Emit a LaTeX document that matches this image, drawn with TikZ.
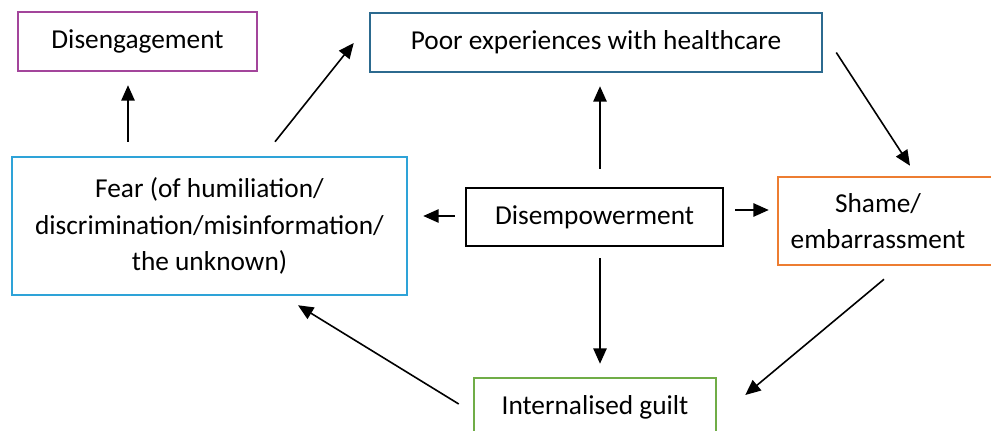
\documentclass[tikz,border=0pt]{standalone}
\usepackage{fontspec}
\setmainfont{Carlito}
\usetikzlibrary{arrows.meta,positioning,calc}

\definecolor{engpurple}{RGB}{163,69,155}
\definecolor{poorteal}{RGB}{44,106,143}
\definecolor{fearblue}{RGB}{46,163,216}
\definecolor{shameorange}{RGB}{237,125,49}
\definecolor{guiltgreen}{RGB}{112,173,71}

\begin{document}
\begin{tikzpicture}[
    x=0.75pt, y=-0.75pt,
    box/.style={draw, line width=1.9pt, align=center, inner sep=0pt,
        font=\fontsize{20.5}{27.5}\selectfont},
    arr/.style={-{Triangle[length=11.5pt,width=10pt]}, line width=1.2pt}
]
\useasboundingbox (0,0) rectangle (991,431);
\begin{scope}
\clip (0,0) rectangle (991,431);
\node[box, draw=engpurple, minimum width=179.25pt, minimum height=44.25pt] (diseng) at (137.5,41.5) {Disengagement};
\node[box, draw=poorteal, minimum width=339pt, minimum height=44.25pt] (poor) at (596,42.5) {Poor experiences with healthcare};
\node[box, draw=fearblue, minimum width=296.25pt, minimum height=103.5pt] (fear) at (209.5,226) {Fear (of humiliation/\\discrimination/misinformation/\\the unknown)};
\node[box, draw=black, minimum width=192.75pt, minimum height=43.5pt] (disemp) at (594.5,217) {Disempowerment};
\node[box, draw=shameorange, minimum width=162pt, minimum height=66pt] (shame) at (886,221) {\hspace*{-12pt}Shame/\\\hspace*{-12pt}embarrassment};
\node[box, draw=guiltgreen, minimum width=181.5pt, minimum height=43.5pt] (guilt) at (595,407) {Internalised guilt};
\end{scope}

\draw[arr] ($(fear.north)+(-81.5,-14)$) -- ($(diseng.south)+(-9.5,13)$);
\draw[arr] ($(fear.north)+(65.5,-14)$) -- ($(poor.west)+(-15,0.5)$);
\draw[arr] ($(disemp.north)+(5.5,-18)$) -- ($(poor.south)+(4,13)$);
\draw[arr] ($(poor.east)+(13,10)$) -- ($(shame.north)+(24,-10)$);
\draw[arr] ($(disemp.west)+(-10,-1)$) -- ($(fear.east)+(15,-10)$);
\draw[arr] ($(disemp.east)+(11,-7)$) -- ($(shame.west)+(-8,-11)$);
\draw[arr] ($(disemp.south)+(5.5,11)$) -- ($(guilt.north)+(5,-13)$);
\draw[arr] ($(shame.south)+(-2,13)$) -- ($(guilt.east)+(28,-12)$);
\draw[arr] ($(guilt.west)+(-14,-3)$) -- ($(fear.south)+(88.5,9)$);
\end{tikzpicture}
\end{document}
